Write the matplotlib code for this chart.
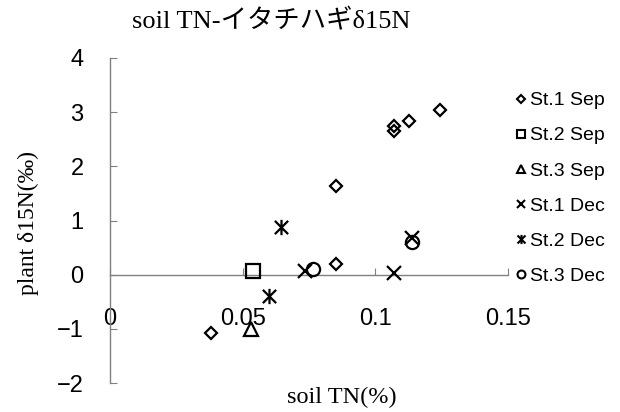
import matplotlib
matplotlib.use("Agg")
import matplotlib.pyplot as plt
from matplotlib.lines import Line2D
from matplotlib.path import Path

# Data
st1_sep_x = [0.038, 0.085, 0.085, 0.107, 0.107, 0.1125, 0.1245]
st1_sep_y = [-1.08, 1.64, 0.20, 2.74, 2.66, 2.83, 3.04]
st2_sep_x = [0.054]
st2_sep_y = [0.06]
st3_sep_x = [0.053]
st3_sep_y = [-1.00]
st1_dec_x = [0.0735, 0.107, 0.114]
st1_dec_y = [0.06, 0.04, 0.68]
st2_dec_x = [0.0645, 0.0598]
st2_dec_y = [0.88, -0.39]
st3_dec_x = [0.0765, 0.114]
st3_dec_y = [0.11, 0.60]

labels = ["St.1 Sep", "St.2 Sep", "St.3 Sep", "St.1 Dec", "St.2 Dec", "St.3 Dec"]
xticks = [0, 0.05, 0.1, 0.15]
xticklabels = ["0", "0.05", "0.1", "0.15"]
yticks = [-2, -1, 0, 1, 2, 3, 4]
yticklabels = ["\u22122", "\u22121", "0", "1", "2", "3", "4"]

# x with a vertical bar
star_path = Path([(-1, -1), (1, 1), (-1, 1), (1, -1), (0, -1.15), (0, 1.15)],
                 [Path.MOVETO, Path.LINETO, Path.MOVETO, Path.LINETO, Path.MOVETO, Path.LINETO])

W, H = 620, 412
fig = plt.figure(figsize=(6.2, 4.12), dpi=100)
ax = fig.add_axes([110 / W, 1 - 383 / H, (508 - 110) / W, (383 - 58) / H])

series = [
    (st1_sep_x, st1_sep_y, "D", 6.6),
    (st2_sep_x, st2_sep_y, "s", 10),
    (st3_sep_x, st3_sep_y, "^", 10),
    (st1_dec_x, st1_dec_y, "x", 9.5),
    (st2_dec_x, st2_dec_y, star_path, 11),
    (st3_dec_x, st3_dec_y, "o", 9.5),
]
handles = []
for (xs, ys, m, ms), lab in zip(series, labels):
    ax.plot(xs, ys, linestyle="none", marker=m, markersize=ms,
            markerfacecolor="none", markeredgecolor="black",
            markeredgewidth=1.6, zorder=3)
    handles.append(Line2D([], [], linestyle="none", marker=m, markersize=ms * 0.6,
                          markerfacecolor="none", markeredgecolor="black",
                          markeredgewidth=1.5, label=lab))

ax.set_xlim(0, 0.15)
ax.set_ylim(-2, 4)
for s in ["top", "right"]:
    ax.spines[s].set_visible(False)
ax.spines["bottom"].set_position(("data", 0))
for s in ["left", "bottom"]:
    ax.spines[s].set_color("#808080")
    ax.spines[s].set_linewidth(1.0)

tickfont = dict(family="Liberation Sans", size=17)
ax.set_xticks(xticks)
ax.set_xticklabels(xticklabels, **tickfont)
ax.set_yticks(yticks)
ax.set_yticklabels(yticklabels, **tickfont)
ax.tick_params(axis="x", direction="in", length=5, color="#808080", pad=24)
ax.tick_params(axis="y", direction="in", length=5, color="#808080", pad=19)
ax.patch.set_visible(False)

serif = ["Liberation Serif", "Noto Sans CJK JP", "DejaVu Serif"]
fig.text(271 / W, 1 - 21 / H, "soil TN-イタチハギδ15N", family=serif, size=19,
         ha="center", va="center")
fig.text(28 / W, 1 - 223 / H, "plant δ15N(‰)", family=serif, size=17,
         rotation=90, ha="center", va="center")
fig.text(342 / W, 1 - 397 / H, "soil TN(%)", family=serif, size=17.5,
         ha="center", va="center")

fig.legend(handles=handles, loc="upper left", bbox_to_anchor=(506 / W, 1 - 84 / H),
           frameon=False, prop=dict(family="Liberation Sans", size=14),
           handlelength=0.7, handletextpad=0.15, labelspacing=0.9, borderaxespad=0)

fig.savefig("out.png", dpi=100)
